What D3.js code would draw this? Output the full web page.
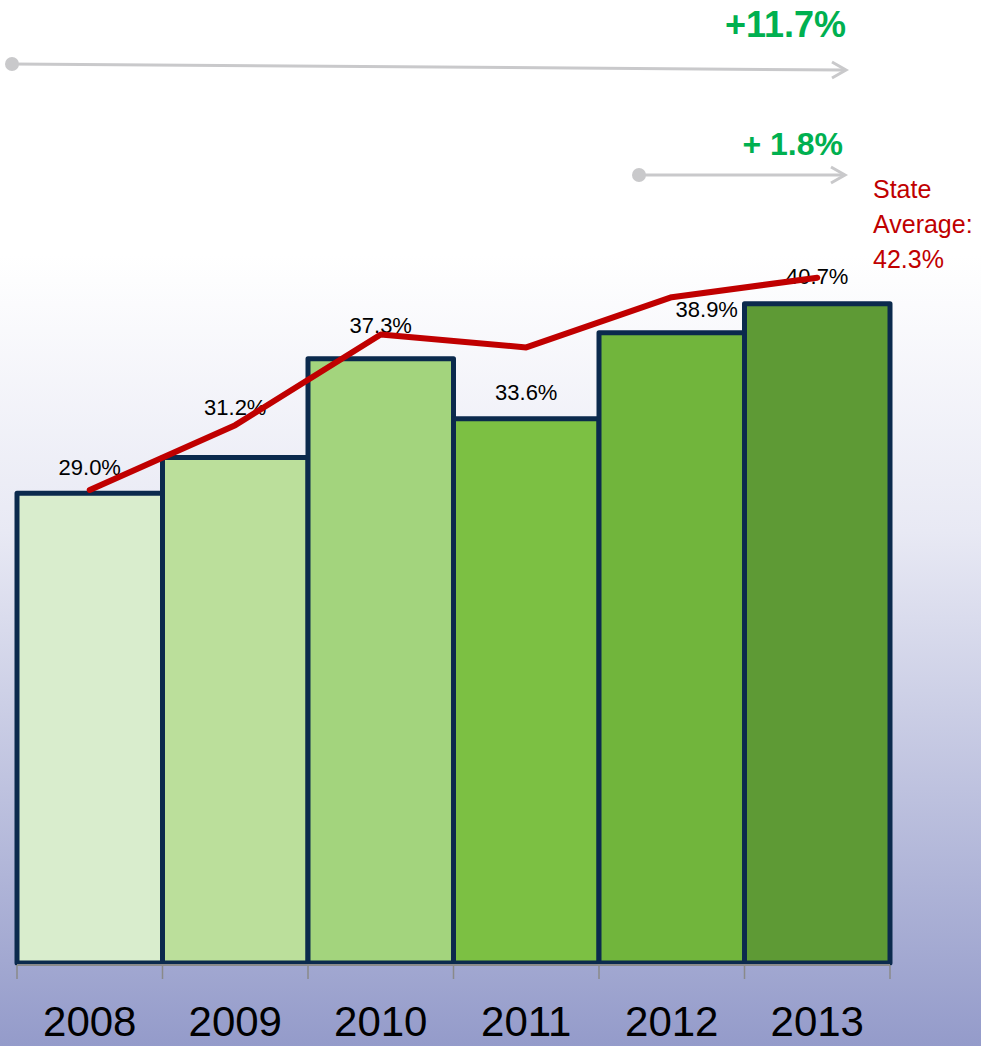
<!DOCTYPE html>
<html>
<head>
<meta charset="utf-8">
<script src="https://cdn.jsdelivr.net/npm/d3@7"></script>
<style>
  html, body { margin: 0; padding: 0; background: #fff; }
  svg { display: block; }
</style>
</head>
<body>
<svg id="chart" width="981" height="1046"></svg>
<script>
const years = ["2008", "2009", "2010", "2011", "2012", "2013"];
const schoolValues = [29.0, 31.2, 37.3, 33.6, 38.9, 40.7];
const stateValues = [29.2, 33.2, 38.8, 38.0, 41.1, 42.3];
const barColors = ["#d9edcd", "#bbdf9b", "#a3d47d", "#7cc043", "#71b53c", "#5e9a35"];
const changeLabels = ["+11.7%", "+ 1.8%"];
const stateLabel = ["State", "Average:", "42.3%"];

const svg = d3.select("svg#chart");
const width = +svg.attr("width");
const height = +svg.attr("height");

// background gradient
const defs = svg.append("defs");
const grad = defs.append("linearGradient")
    .attr("id", "bg")
    .attr("x1", 0).attr("y1", 0).attr("x2", 0).attr("y2", 1);
grad.append("stop").attr("offset", "0%").attr("stop-color", "#ffffff");
grad.append("stop").attr("offset", "35%").attr("stop-color", "#e8e9f4");
grad.append("stop").attr("offset", "100%").attr("stop-color", "#949bca");

svg.append("rect")
    .attr("x", 0).attr("y", 255)
    .attr("width", width).attr("height", height - 255)
    .attr("fill", "url(#bg)");

const x = d3.scaleBand().domain(years).range([17, 890]).padding(0);
const y = d3.scaleLinear().domain([0, 45]).range([963, 234]);

// bars
svg.append("g")
    .selectAll("rect")
    .data(years)
    .enter().append("rect")
      .attr("x", d => x(d))
      .attr("y", (d, i) => y(schoolValues[i]))
      .attr("width", x.bandwidth())
      .attr("height", (d, i) => y(0) - y(schoolValues[i]))
      .attr("fill", (d, i) => barColors[i])
      .attr("stroke", "#0b2a4d")
      .attr("stroke-width", 5)
      .attr("stroke-linejoin", "round");

// axis
const axis = svg.append("g").attr("transform", "translate(0,965)");
axis.append("line")
    .attr("x1", 17).attr("x2", 890)
    .attr("stroke", "#8a8a8a").attr("stroke-width", 2);
axis.selectAll(".tick")
    .data(years.concat(["end"]))
    .enter().append("line")
      .attr("x1", (d, i) => i < years.length ? x(d) : x(years[years.length - 1]) + x.bandwidth())
      .attr("x2", (d, i) => i < years.length ? x(d) : x(years[years.length - 1]) + x.bandwidth())
      .attr("y1", 0).attr("y2", 14)
      .attr("stroke", "#8a8a8a").attr("stroke-width", 1.5);

svg.append("g")
    .selectAll("text")
    .data(years)
    .enter().append("text")
      .attr("x", d => x(d) + x.bandwidth() / 2)
      .attr("y", 1036)
      .attr("text-anchor", "middle")
      .attr("font-family", "Liberation Sans, Arial, sans-serif")
      .attr("font-size", 42)
      .attr("fill", "#000")
      .text(d => d);

// value labels (small nudges where the original labels sat off-centre)
const labelDx = [0, 0, 0, 0, 35, 0];
const labelDy = [-18, -43, -26, -19, -16, -20];
svg.append("g")
    .selectAll("text")
    .data(years)
    .enter().append("text")
      .attr("x", (d, i) => x(d) + x.bandwidth() / 2 + labelDx[i])
      .attr("y", (d, i) => y(schoolValues[i]) + labelDy[i])
      .attr("text-anchor", "middle")
      .attr("font-family", "Liberation Sans, Arial, sans-serif")
      .attr("font-size", 22)
      .attr("fill", "#000")
      .text((d, i) => schoolValues[i].toFixed(1) + "%");

// state average line
const line = d3.line()
    .x((d, i) => x(years[i]) + x.bandwidth() / 2)
    .y(d => y(d));
svg.append("path")
    .datum(stateValues)
    .attr("d", line)
    .attr("fill", "none")
    .attr("stroke", "#c00000")
    .attr("stroke-width", 6)
    .attr("stroke-linecap", "round")
    .attr("stroke-linejoin", "round");

// state average label
svg.append("text")
    .attr("font-family", "Liberation Sans, Arial, sans-serif")
    .attr("font-size", 25)
    .attr("fill", "#c00000")
    .selectAll("tspan")
    .data(stateLabel)
    .enter().append("tspan")
      .attr("x", 873)
      .attr("y", (d, i) => 198 + i * 35)
      .text(d => d);

// change arrows
function arrow(x1, y1, x2, y2) {
  const g = svg.append("g");
  g.append("line")
      .attr("x1", x1).attr("y1", y1).attr("x2", x2 - 2).attr("y2", y2)
      .attr("stroke", "#c9c9cb").attr("stroke-width", 3);
  g.append("path")
      .attr("d", `M${x2 - 14},${y2 - 8} L${x2},${y2} L${x2 - 14},${y2 + 8}`)
      .attr("fill", "none")
      .attr("stroke", "#c9c9cb").attr("stroke-width", 3);
  g.append("circle")
      .attr("cx", x1).attr("cy", y1).attr("r", 7)
      .attr("fill", "#c9c9cb");
}
arrow(12, 64, 846, 70);
arrow(639, 175, 845, 175);

svg.append("text")
    .attr("x", 846).attr("y", 37)
    .attr("text-anchor", "end")
    .attr("font-family", "Liberation Sans, Arial, sans-serif")
    .attr("font-weight", "bold")
    .attr("font-size", 36)
    .attr("fill", "#00b050")
    .text(changeLabels[0]);

svg.append("text")
    .attr("x", 843).attr("y", 155)
    .attr("text-anchor", "end")
    .attr("font-family", "Liberation Sans, Arial, sans-serif")
    .attr("font-weight", "bold")
    .attr("font-size", 32)
    .attr("fill", "#00b050")
    .text(changeLabels[1]);
</script>
</body>
</html>
